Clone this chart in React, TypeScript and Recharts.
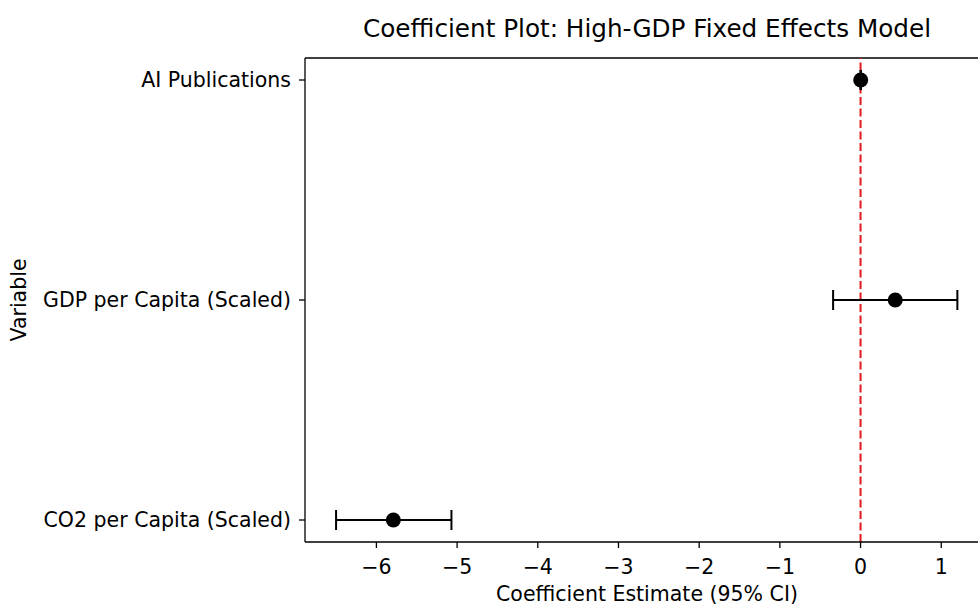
import React from 'react';
import { ScatterChart, Scatter, XAxis, YAxis, ErrorBar, ReferenceLine } from 'recharts';

const font = '"DejaVu Sans", sans-serif';

// Data
const variables = ['AI Publications', 'GDP per Capita (Scaled)', 'CO2 per Capita (Scaled)'];
const coefficients = [0.002, 0.43, -5.79];
const ciLower = [-0.002, -0.34, -6.5];
const ciUpper = [0.006, 1.2, -5.07];
const xTicks = [-6, -5, -4, -3, -2, -1, 0, 1];

const xDomain = [-6.885, 1.592];
const yDomain = [-0.1, 2.1];

const data = variables.map((name, i) => ({
  name,
  y: i,
  coef: coefficients[i],
  err: [coefficients[i] - ciLower[i], ciUpper[i] - coefficients[i]],
}));

const fmtMinus = (v: number) => (v < 0 ? '\u2212' + Math.abs(v) : String(v));

const Dot = (props: any) => <circle cx={props.cx} cy={props.cy} r={7.5} fill="#000" />;

const YLabel = (props: any) => {
  const vb = props.viewBox;
  const cx = 19;
  const cy = vb.y + vb.height / 2;
  return (
    <text x={cx} y={cy} transform={`rotate(-90 ${cx} ${cy})`} textAnchor="middle" dominantBaseline="central"
      fontFamily={font} fontSize={20.5} fill="#000">
      Variable
    </text>
  );
};

const tickStyle = { fill: '#000', fontSize: 20.5, fontFamily: font };

export default function App() {
  return (
    <div style={{ position: 'absolute', left: 0, top: 0, width: 978, height: 606, overflow: 'hidden', background: '#fff' }}>
      <div style={{ position: 'absolute', left: 305, width: 684, top: 14, textAlign: 'center', fontFamily: font, fontSize: 24.7, lineHeight: '30px', color: '#000' }}>
        Coefficient Plot: High-GDP Fixed Effects Model
      </div>
      <ScatterChart width={1000} height={606} margin={{ top: 58, right: 11, bottom: 0, left: 0 }}>
        <XAxis type="number" dataKey="coef" domain={xDomain} ticks={xTicks} allowDataOverflow
          tickFormatter={fmtMinus} tick={tickStyle} tickSize={6} tickMargin={11} height={64}
          axisLine={{ stroke: '#000', strokeWidth: 1.3 }} tickLine={{ stroke: '#000', strokeWidth: 1.3 }}
          label={{ value: 'Coefficient Estimate (95% CI)', position: 'insideBottom', offset: 5, fill: '#000', fontSize: 20.5, fontFamily: font }} />
        <YAxis type="number" dataKey="y" domain={yDomain} ticks={[0, 1, 2]} reversed allowDataOverflow width={305}
          tickFormatter={(v: number) => variables[v]} tick={tickStyle} tickSize={6} tickMargin={8}
          axisLine={{ stroke: '#000', strokeWidth: 1.3 }} tickLine={{ stroke: '#000', strokeWidth: 1.3 }} label={<YLabel />} />
        {/* top and right spines */}
        <ReferenceLine y={yDomain[0]} stroke="#000" strokeWidth={1.3} ifOverflow="visible" />
        <ReferenceLine x={xDomain[1]} stroke="#000" strokeWidth={1.3} ifOverflow="visible" />
        <ReferenceLine x={0} stroke="#e0191e" strokeWidth={2} strokeDasharray="8 3.5" />
        <Scatter data={data} shape={<Dot />} isAnimationActive={false}>
          <ErrorBar dataKey="err" direction="x" width={10} stroke="#000" strokeWidth={2} />
        </Scatter>
      </ScatterChart>
    </div>
  );
}
